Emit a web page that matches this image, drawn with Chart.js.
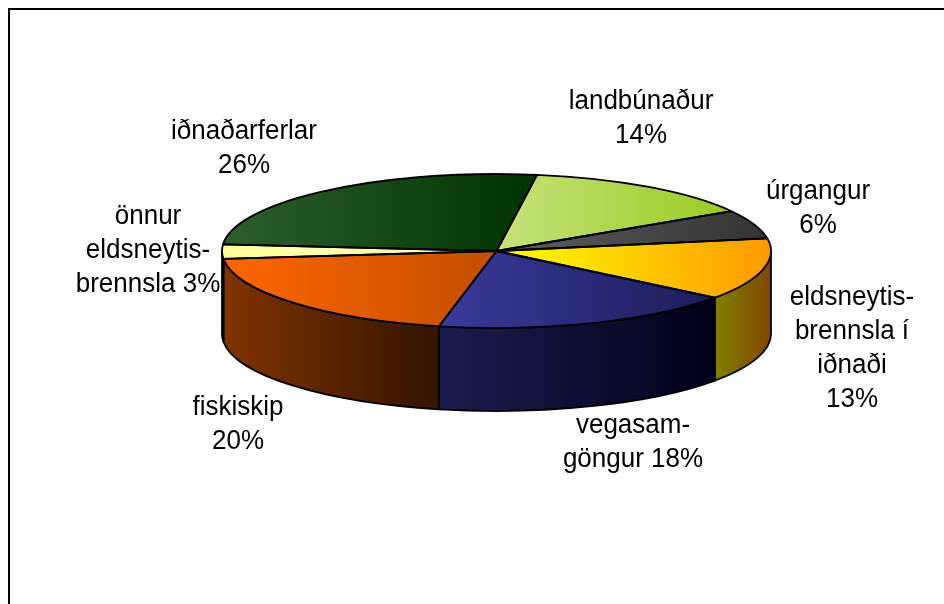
<!DOCTYPE html>
<html>
<head>
<meta charset="utf-8">
<script src="https://cdn.jsdelivr.net/npm/chart.js@4.4.1/dist/chart.umd.min.js"></script>
<style>
  html, body { margin: 0; padding: 0; background: #fff; }
</style>
</head>
<body>
<canvas id="myChart" width="944" height="604"></canvas>
<script>
// gögn
const flokkar = ['landbúnaður', 'úrgangur', 'eldsneytisbrennsla í iðnaði', 'vegasamgöngur', 'fiskiskip', 'önnur eldsneytisbrennsla', 'iðnaðarferlar'];
const hlutfall = [14, 6, 13, 18, 20, 3, 26];
// merki, {p} verður hlutfallið
const merkiLinur = [
    ['landbúnaður', '{p}'],
    ['úrgangur', '{p}'],
    ['eldsneytis-', 'brennsla í', 'iðnaði', '{p}'],
    ['vegasam-', 'göngur {p}'],
    ['fiskiskip', '{p}'],
    ['önnur', 'eldsneytis-', 'brennsla {p}'],
    ['iðnaðarferlar', '{p}']
];

// útlit
const litirToppur = [
    ['#c6e27c', '#99cc22'],
    ['#5e5e5e', '#333333'],
    ['#ffff00', '#ff9900'],
    ['#3a3a9c', '#1c1c58'],
    ['#ff6600', '#c24e00'],
    ['#ffff99', '#ffffcc'],
    ['#2e5e2e', '#003300']
];
const litirHlid = [
    ['#7f9f40', '#5f7f10'],
    ['#333333', '#1a1a1a'],
    ['#808000', '#804600'],
    ['#1c1c4e', '#00001a'],
    ['#803400', '#321400'],
    ['#80804c', '#808066'],
    ['#163016', '#001a00']
];
const merkiStadir = [[641, 109], [818, 199], [852, 305], [633, 433], [238, 415], [148, 224], [244, 139]];
const midjaY = 251;   // miðja efri flatar
const halliY = 77;    // lóðréttur radíus
const dypt = 83;      // hæð hliðar
const linubil = 34;

const ctx = document.getElementById('myChart');

function xBil(cx, rx, a, b, medMidju) {
    const xs = [cx + rx * Math.cos(a), cx + rx * Math.cos(b)];
    if (medMidju) xs.push(cx);
    for (let k = -2; k <= 2; k++) {
        const t = k * Math.PI;
        if (t > a && t < b) xs.push(cx + rx * Math.cos(t));
    }
    return [Math.min(...xs), Math.max(...xs)];
}

function halla(c, x0, x1, litir) {
    const g = c.createLinearGradient(x0, 0, x1 + 0.01, 0);
    g.addColorStop(0, litir[0]);
    g.addColorStop(1, litir[1]);
    return g;
}

const pie3d = {
    id: 'pie3d',
    beforeDraw(chart) {
        const c = chart.ctx;
        c.save();
        c.strokeStyle = '#000';
        c.lineWidth = 2;
        c.strokeRect(9, 9, 960, 640);
        c.restore();
    },
    beforeDatasetsDraw(chart) {
        const c = chart.ctx;
        const arcs = chart.getDatasetMeta(0).data;
        const cx = arcs[0].x, rx = arcs[0].outerRadius;

        // hliðar (framhelmingur)
        arcs.forEach((arc, i) => {
            const a = Math.max(arc.startAngle, 0);
            const b = Math.min(arc.endAngle, Math.PI);
            if (b <= a) return;
            const [x0, x1] = xBil(cx, rx, a, b, false);
            c.save();
            c.beginPath();
            c.ellipse(cx, midjaY, rx, halliY, 0, a, b, false);
            c.lineTo(cx + rx * Math.cos(b), midjaY + dypt + halliY * Math.sin(b));
            c.ellipse(cx, midjaY + dypt, rx, halliY, 0, b, a, true);
            c.closePath();
            c.fillStyle = halla(c, x0, x1, litirHlid[i]);
            c.fill();
            c.lineWidth = 1.8;
            c.lineJoin = 'round';
            c.strokeStyle = '#000';
            c.stroke();
            c.restore();
        });

        // litir efri flatar
        arcs.forEach((arc, i) => {
            const [x0, x1] = xBil(cx, rx, arc.startAngle, arc.endAngle, true);
            arc.options.backgroundColor = halla(c, x0, x1, litirToppur[i]);
        });

        c.save();
        c.translate(0, midjaY);
        c.scale(1, halliY / rx);
        c.translate(0, -arcs[0].y);
    },
    afterDatasetsDraw(chart) {
        const c = chart.ctx;
        c.restore();
        const arcs = chart.getDatasetMeta(0).data;
        const cx = arcs[0].x, rx = arcs[0].outerRadius;

        // útlínur sneiða
        c.save();
        c.lineWidth = 1.8;
        c.lineJoin = 'round';
        c.strokeStyle = '#000';
        arcs.forEach(arc => {
            c.beginPath();
            c.moveTo(cx, midjaY);
            c.lineTo(cx + rx * Math.cos(arc.startAngle), midjaY + halliY * Math.sin(arc.startAngle));
            c.ellipse(cx, midjaY, rx, halliY, 0, arc.startAngle, arc.endAngle, false);
            c.closePath();
            c.stroke();
        });
        c.restore();

        // merki
        c.save();
        c.fillStyle = '#000';
        c.font = '26px "Liberation Sans", Arial, sans-serif';
        c.textAlign = 'center';
        c.textBaseline = 'alphabetic';
        merkiLinur.forEach((linur, i) => {
            const [x, y] = merkiStadir[i];
            linur.forEach((t, j) => {
                const ty = y + j * linubil;
                c.save();
                c.translate(x, ty);
                c.scale(1, 1.06);
                c.fillText(t.replace('{p}', hlutfall[i] + '%'), 0, 0);
                c.restore();
            });
        });
        c.restore();
    }
};

new Chart(ctx, {
    type: 'pie',
    data: {
        labels: flokkar,
        datasets: [{
            data: hlutfall,
            backgroundColor: (c) => litirToppur[c.dataIndex][0],
            borderWidth: 0,
            borderColor: 'transparent'
        }]
    },
    options: {
        responsive: false,
        devicePixelRatio: 1,
        animation: false,
        events: [],
        rotation: 8.5,
        radius: 274.5,
        layout: { padding: { left: 49 } },
        plugins: {
            legend: { display: false },
            tooltip: { enabled: false }
        }
    },
    plugins: [pie3d]
});
</script>
</body>
</html>
